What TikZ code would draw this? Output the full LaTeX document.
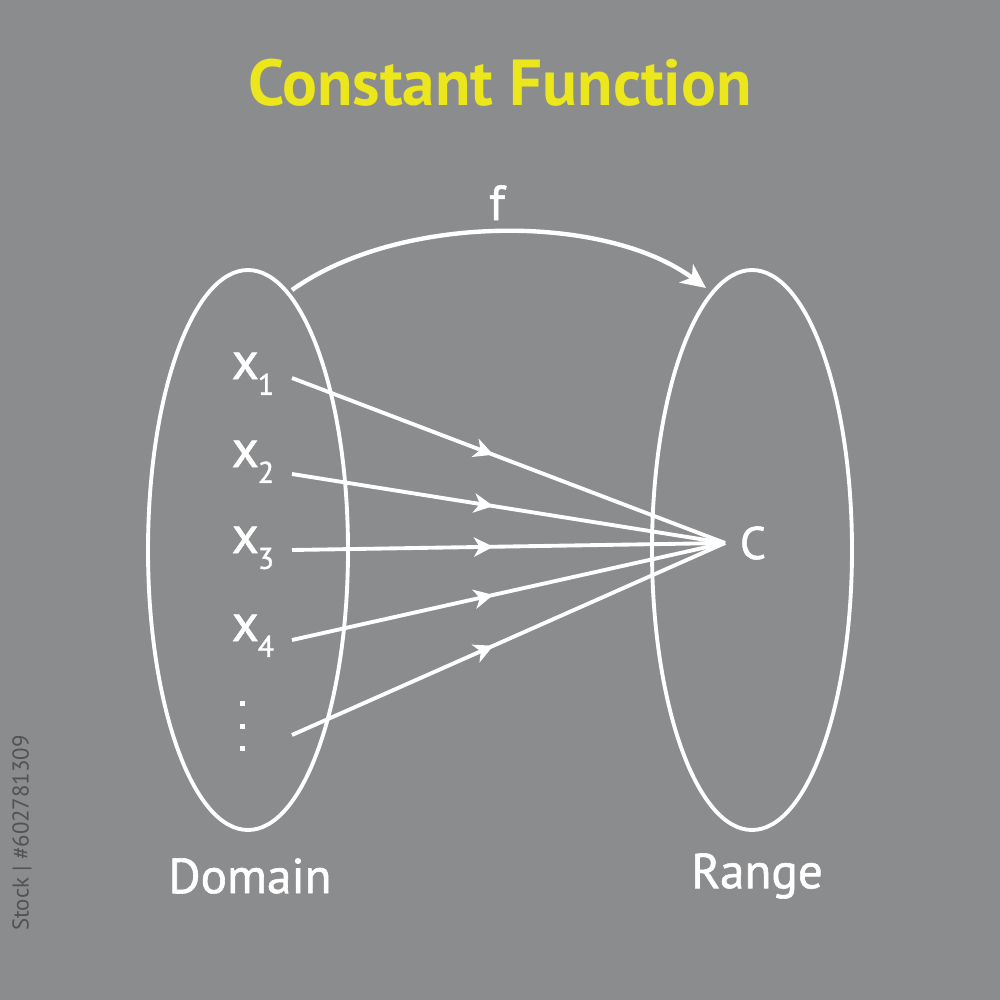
\documentclass[tikz,border=0pt]{standalone}
\usepackage{fontspec}
\setmainfont{PT Sans}
\newfontfamily\medfont[FakeBold=1.2]{PT Sans}
\usetikzlibrary{arrows.meta,decorations.markings,shapes.geometric}
\definecolor{bg}{RGB}{139,140,142}
\definecolor{ttl}{RGB}{236,230,28}
\definecolor{wm}{RGB}{80,82,85}
\newcommand{\xsub}[1]{x\kern-0.3pt\raisebox{-0.6ex}{\fontsize{8.5}{9}\selectfont #1}}
\tikzset{
  wline/.style={draw=white, line width=1.1pt},
  setoval/.style={draw=white, line width=1.1pt, ellipse, minimum width=200*0.01cm, minimum height=560*0.01cm, inner sep=0pt},
  maparrow/.style={wline, postaction={decorate}, decoration={markings, mark=at position 0.465 with {\arrow{Stealth[length=5.5pt,width=5.5pt,inset=1.6pt]}}}},
  xlabel/.style={text=white, font=\medfont\fontsize{15}{17}\selectfont, anchor=base west, inner sep=0pt},
  lbl/.style={text=white, font=\medfont\fontsize{14}{16}\selectfont, inner sep=0pt},
  dotbox/.style={fill=white, minimum size=5*0.01cm, inner sep=0pt, draw=none}
}
\begin{document}
\begin{tikzpicture}[x=0.01cm,y=-0.01cm]
\fill[bg] (0,0) rectangle (1000,1000);
\useasboundingbox (0,0) rectangle (1000,1000);

\node[text=ttl, font=\bfseries\fontsize{18.5}{20}\selectfont, inner sep=0pt] (title) at (500,83) {Constant Function};

\node[setoval] (dom) at (248,550) {};
\node[setoval] (rng) at (752,550) {};

\coordinate (fs) at (292,290);
\coordinate (fe) at (706,288);
\draw[white, line width=1.25pt, -{Stealth[length=7pt,width=6.5pt,inset=2pt]}] (fs) .. controls (400,213) and (605,213) .. (fe);
\node[text=white, font=\medfont\fontsize{14}{15}\selectfont, inner sep=0pt, anchor=base] (f) at (497,220) {f};

\node[xlabel] (x1) at (231,379) {\xsub{1}};
\node[xlabel] (x2) at (231,467) {\xsub{2}};
\node[xlabel] (x3) at (231,553) {\xsub{3}};
\node[xlabel] (x4) at (231,641) {\xsub{4}};
\node[dotbox] (d1) at (242,703) {};
\node[dotbox] (d2) at (242,726) {};
\node[dotbox] (d3) at (242,748) {};

\coordinate (s1) at (292,378);
\coordinate (s2) at (292,474);
\coordinate (s3) at (292,550);
\coordinate (s4) at (292,640);
\coordinate (s5) at (292,735);
\coordinate (c) at (725,543);
\foreach \s in {s1,s2,s3,s4,s5} \draw[maparrow] (\s) -- (c);

\node[text=white, font=\medfont\fontsize{13}{14}\selectfont, inner sep=0pt] (cl) at (753,543) {C};

\node[lbl] (domain) at (250,876) {Domain};
\node[lbl] (range) at (757,876) {Range};

\node[text=wm, font=\fontsize{6.5}{7}\selectfont, rotate=90, inner sep=0pt] (id) at (22,833) {Stock | \#602781309};
\end{tikzpicture}
\end{document}
